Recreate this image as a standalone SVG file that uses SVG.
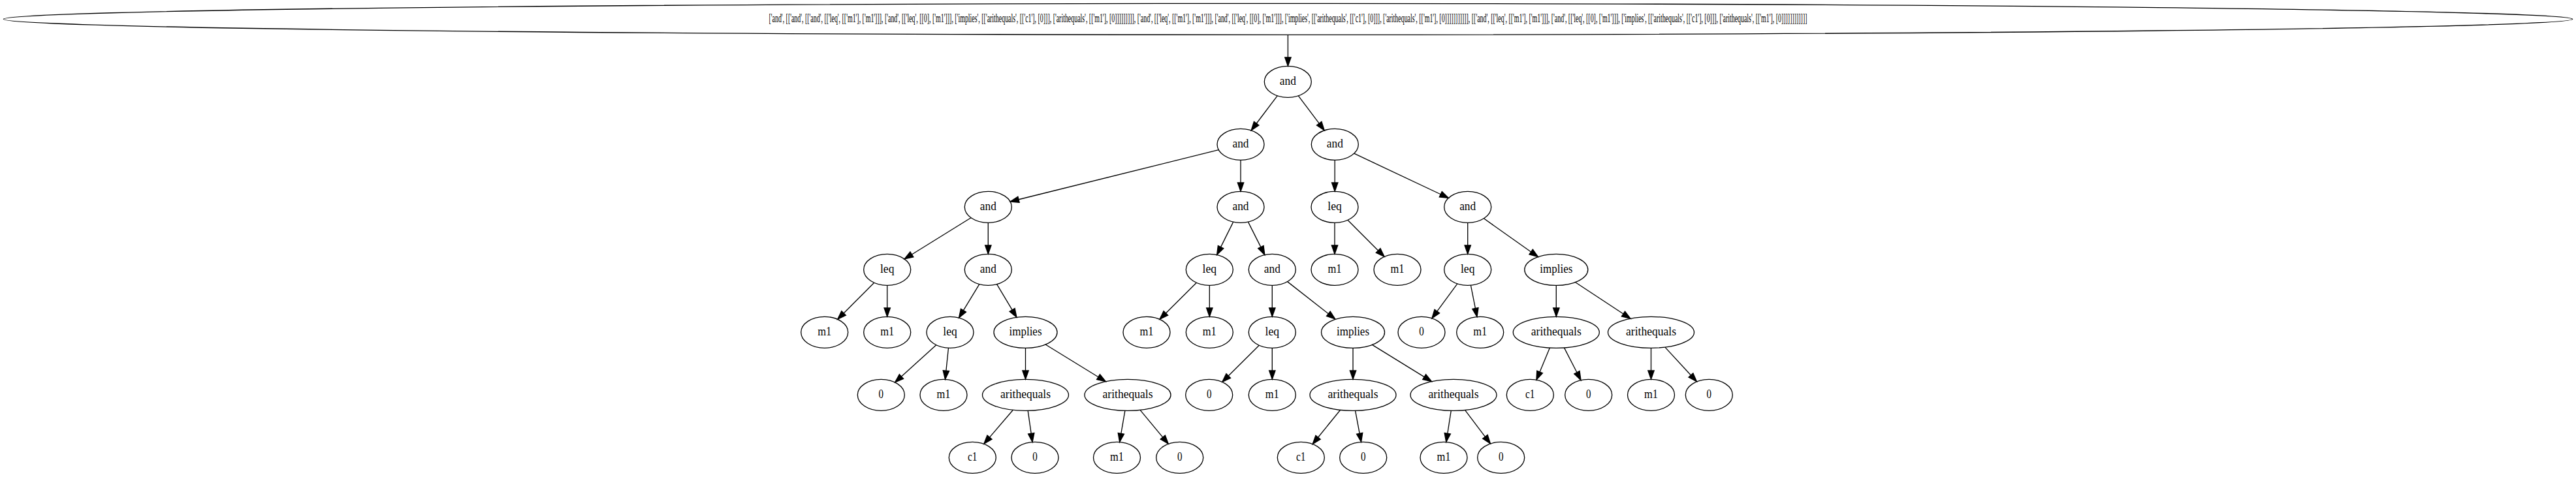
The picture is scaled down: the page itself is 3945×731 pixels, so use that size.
<svg xmlns="http://www.w3.org/2000/svg" width="3945" height="731" viewBox="0 0 3945 731">
<style>
.n ellipse{fill:none;stroke:#000;stroke-width:1.33}
.n text{font-family:"Liberation Serif","Times New Roman",serif;font-size:18.67px;fill:#000;text-anchor:middle}
#edges line{stroke:#000;stroke-width:1.33;marker-end:url(#ah)}
</style>
<defs>
<marker id="ah" markerUnits="userSpaceOnUse" markerWidth="16" markerHeight="12" refX="0" refY="4.67" orient="auto" overflow="visible">
<path d="M0,0 L13.33,4.67 L0,9.33 z" fill="#000" stroke="#000" stroke-width="1.33"/>
</marker>
</defs>
<rect width="3945" height="731" fill="#fff"/>
<g id="edges">
<line x1="1972.4" y1="53.33" x2="1972.4" y2="88"/>
<line x1="1956.15" y1="146.78" x2="1924.17" y2="189.23"/>
<line x1="1988.4" y1="146.8" x2="2020.2" y2="189.2"/>
<line x1="1866.26" y1="229.7" x2="1559.98" y2="305.75"/>
<line x1="1900" y1="245.33" x2="1900" y2="280"/>
<line x1="2044.2" y1="245.33" x2="2044.2" y2="280"/>
<line x1="2073.68" y1="235.2" x2="2206.26" y2="297.77"/>
<line x1="1486.96" y1="333.69" x2="1396.36" y2="389.94"/>
<line x1="1513.3" y1="341.33" x2="1513.3" y2="376"/>
<line x1="1888.68" y1="340.11" x2="1869.55" y2="378.61"/>
<line x1="1911.45" y1="340.08" x2="1930.86" y2="378.67"/>
<line x1="2044" y1="341.33" x2="2044" y2="376"/>
<line x1="2063.97" y1="337.3" x2="2110.6" y2="383.93"/>
<line x1="2247.7" y1="341.33" x2="2247.7" y2="376"/>
<line x1="2272.38" y1="334.8" x2="2344.63" y2="385.96"/>
<line x1="1338.73" y1="433.3" x2="1292.1" y2="479.93"/>
<line x1="1358.7" y1="437.33" x2="1358.7" y2="472"/>
<line x1="1499.79" y1="435.58" x2="1475.43" y2="475.69"/>
<line x1="1526.63" y1="435.62" x2="1550.1" y2="474.88"/>
<line x1="1832.33" y1="433.3" x2="1785.4" y2="479.93"/>
<line x1="1852.3" y1="437.33" x2="1852.3" y2="472"/>
<line x1="1948.3" y1="437.33" x2="1948.3" y2="472"/>
<line x1="1971.61" y1="431.62" x2="2034.33" y2="480.8"/>
<line x1="2231.83" y1="434.87" x2="2200.77" y2="477.06"/>
<line x1="2252.41" y1="437.12" x2="2259.4" y2="472.46"/>
<line x1="2383.3" y1="437.33" x2="2383.3" y2="472"/>
<line x1="2412.43" y1="432.52" x2="2485.98" y2="480.99"/>
<line x1="1433.7" y1="528.68" x2="1380.47" y2="577.02"/>
<line x1="1452.51" y1="533.27" x2="1448.87" y2="568.13"/>
<line x1="1570.5" y1="533.33" x2="1570.5" y2="568"/>
<line x1="1601.13" y1="528.02" x2="1682.02" y2="577.7"/>
<line x1="1928.24" y1="529.26" x2="1881.22" y2="576"/>
<line x1="1948.3" y1="533.33" x2="1948.3" y2="568"/>
<line x1="2072" y1="533.33" x2="2072" y2="568"/>
<line x1="2101.01" y1="528.07" x2="2181.2" y2="577.63"/>
<line x1="2373.41" y1="533.06" x2="2358.07" y2="569.9"/>
<line x1="2395.44" y1="532.92" x2="2414.92" y2="570.78"/>
<line x1="2528.5" y1="533.33" x2="2528.5" y2="568"/>
<line x1="2549.94" y1="532.09" x2="2589.46" y2="575.06"/>
<line x1="1551.4" y1="628.28" x2="1515.48" y2="670.19"/>
<line x1="1574.2" y1="629.29" x2="1579.21" y2="664.29"/>
<line x1="1722.88" y1="629.28" x2="1716.86" y2="664.35"/>
<line x1="1746.07" y1="628.31" x2="1780.75" y2="670.07"/>
<line x1="2052.64" y1="628.27" x2="2018.55" y2="670.22"/>
<line x1="2075.59" y1="629.29" x2="2082.14" y2="664.28"/>
<line x1="2222.26" y1="629.29" x2="2216.79" y2="664.29"/>
<line x1="2243.52" y1="628.47" x2="2274.43" y2="669.28"/>
</g>
<g id="root" class="n"><ellipse cx="1972.5" cy="29.33" rx="1967.2" ry="24"/><text x="1972.5" y="34.33" textLength="1590" lengthAdjust="spacingAndGlyphs">['and', [['and', [['and', [['leq', [['m1'], ['m1']]], ['and', [['leq', [[0], ['m1']]], ['implies', [['arithequals', [['c1'], [0]]], ['arithequals', [['m1'], [0]]]]]]]]], ['and', [['leq', [['m1'], ['m1']]], ['and', [['leq', [[0], ['m1']]], ['implies', [['arithequals', [['c1'], [0]]], ['arithequals', [['m1'], [0]]]]]]]]]]], [['and', [['leq', [['m1'], ['m1']]], ['and', [['leq', [[0], ['m1']]], ['implies', [['arithequals', [['c1'], [0]]], ['arithequals', [['m1'], [0]]]]]]]]]]]]</text></g>
<g id="n1" class="n"><ellipse cx="1972.3" cy="125.33" rx="36" ry="24"/><text x="1972.3" y="130.33" textLength="25" lengthAdjust="spacingAndGlyphs">and</text></g>
<g id="n2" class="n"><ellipse cx="1900" cy="221.33" rx="36" ry="24"/><text x="1900" y="226.33" textLength="25" lengthAdjust="spacingAndGlyphs">and</text></g>
<g id="n3" class="n"><ellipse cx="2044.3" cy="221.33" rx="36" ry="24"/><text x="2044.3" y="226.33" textLength="25" lengthAdjust="spacingAndGlyphs">and</text></g>
<g id="n4" class="n"><ellipse cx="1513.3" cy="317.33" rx="36" ry="24"/><text x="1513.3" y="322.33" textLength="25" lengthAdjust="spacingAndGlyphs">and</text></g>
<g id="n5" class="n"><ellipse cx="1900" cy="317.33" rx="36" ry="24"/><text x="1900" y="322.33" textLength="25" lengthAdjust="spacingAndGlyphs">and</text></g>
<g id="n6" class="n"><ellipse cx="2044" cy="317.33" rx="36" ry="24"/><text x="2044" y="322.33" textLength="21.5" lengthAdjust="spacingAndGlyphs">leq</text></g>
<g id="n7" class="n"><ellipse cx="2247.7" cy="317.33" rx="36" ry="24"/><text x="2247.7" y="322.33" textLength="25" lengthAdjust="spacingAndGlyphs">and</text></g>
<g id="n8" class="n"><ellipse cx="1358.7" cy="413.33" rx="36" ry="24"/><text x="1358.7" y="418.33" textLength="21.5" lengthAdjust="spacingAndGlyphs">leq</text></g>
<g id="n9" class="n"><ellipse cx="1513.3" cy="413.33" rx="36" ry="24"/><text x="1513.3" y="418.33" textLength="25" lengthAdjust="spacingAndGlyphs">and</text></g>
<g id="n10" class="n"><ellipse cx="1852.3" cy="413.33" rx="36" ry="24"/><text x="1852.3" y="418.33" textLength="21.5" lengthAdjust="spacingAndGlyphs">leq</text></g>
<g id="n11" class="n"><ellipse cx="1948.3" cy="413.33" rx="36" ry="24"/><text x="1948.3" y="418.33" textLength="25" lengthAdjust="spacingAndGlyphs">and</text></g>
<g id="n12" class="n"><ellipse cx="2044" cy="413.33" rx="36" ry="24"/><text x="2044" y="418.33" textLength="21" lengthAdjust="spacingAndGlyphs">m1</text></g>
<g id="n13" class="n"><ellipse cx="2140" cy="413.33" rx="36" ry="24"/><text x="2140" y="418.33" textLength="21" lengthAdjust="spacingAndGlyphs">m1</text></g>
<g id="n14" class="n"><ellipse cx="2247.7" cy="413.33" rx="36" ry="24"/><text x="2247.7" y="418.33" textLength="21.5" lengthAdjust="spacingAndGlyphs">leq</text></g>
<g id="n15" class="n"><ellipse cx="2383.3" cy="413.33" rx="48.5" ry="24"/><text x="2383.3" y="418.33" textLength="50" lengthAdjust="spacingAndGlyphs">implies</text></g>
<g id="n16" class="n"><ellipse cx="1262.7" cy="509.33" rx="36" ry="24"/><text x="1262.7" y="514.33" textLength="21" lengthAdjust="spacingAndGlyphs">m1</text></g>
<g id="n17" class="n"><ellipse cx="1358.7" cy="509.33" rx="36" ry="24"/><text x="1358.7" y="514.33" textLength="21" lengthAdjust="spacingAndGlyphs">m1</text></g>
<g id="n18" class="n"><ellipse cx="1455" cy="509.33" rx="36" ry="24"/><text x="1455" y="514.33" textLength="21.5" lengthAdjust="spacingAndGlyphs">leq</text></g>
<g id="n19" class="n"><ellipse cx="1570.5" cy="509.33" rx="48.5" ry="24"/><text x="1570.5" y="514.33" textLength="50" lengthAdjust="spacingAndGlyphs">implies</text></g>
<g id="n20" class="n"><ellipse cx="1756" cy="509.33" rx="36" ry="24"/><text x="1756" y="514.33" textLength="21" lengthAdjust="spacingAndGlyphs">m1</text></g>
<g id="n21" class="n"><ellipse cx="1852.3" cy="509.33" rx="36" ry="24"/><text x="1852.3" y="514.33" textLength="21" lengthAdjust="spacingAndGlyphs">m1</text></g>
<g id="n22" class="n"><ellipse cx="1948.3" cy="509.33" rx="36" ry="24"/><text x="1948.3" y="514.33" textLength="21.5" lengthAdjust="spacingAndGlyphs">leq</text></g>
<g id="n23" class="n"><ellipse cx="2072" cy="509.33" rx="48.5" ry="24"/><text x="2072" y="514.33" textLength="50" lengthAdjust="spacingAndGlyphs">implies</text></g>
<g id="n24" class="n"><ellipse cx="2177" cy="509.33" rx="36" ry="24"/><text x="2177" y="514.33" textLength="7.5" lengthAdjust="spacingAndGlyphs">0</text></g>
<g id="n25" class="n"><ellipse cx="2266.7" cy="509.33" rx="36" ry="24"/><text x="2266.7" y="514.33" textLength="21" lengthAdjust="spacingAndGlyphs">m1</text></g>
<g id="n26" class="n"><ellipse cx="2383.3" cy="509.33" rx="66" ry="24"/><text x="2383.3" y="514.33" textLength="77" lengthAdjust="spacingAndGlyphs">arithequals</text></g>
<g id="n27" class="n"><ellipse cx="2528.5" cy="509.33" rx="66" ry="24"/><text x="2528.5" y="514.33" textLength="77" lengthAdjust="spacingAndGlyphs">arithequals</text></g>
<g id="n28" class="n"><ellipse cx="1349.3" cy="605.33" rx="36" ry="24"/><text x="1349.3" y="610.33" textLength="7.5" lengthAdjust="spacingAndGlyphs">0</text></g>
<g id="n29" class="n"><ellipse cx="1445" cy="605.33" rx="36" ry="24"/><text x="1445" y="610.33" textLength="21" lengthAdjust="spacingAndGlyphs">m1</text></g>
<g id="n30" class="n"><ellipse cx="1570.5" cy="605.33" rx="66" ry="24"/><text x="1570.5" y="610.33" textLength="77" lengthAdjust="spacingAndGlyphs">arithequals</text></g>
<g id="n31" class="n"><ellipse cx="1727" cy="605.33" rx="66" ry="24"/><text x="1727" y="610.33" textLength="77" lengthAdjust="spacingAndGlyphs">arithequals</text></g>
<g id="n32" class="n"><ellipse cx="1851.7" cy="605.33" rx="36" ry="24"/><text x="1851.7" y="610.33" textLength="7.5" lengthAdjust="spacingAndGlyphs">0</text></g>
<g id="n33" class="n"><ellipse cx="1948.3" cy="605.33" rx="36" ry="24"/><text x="1948.3" y="610.33" textLength="21" lengthAdjust="spacingAndGlyphs">m1</text></g>
<g id="n34" class="n"><ellipse cx="2072" cy="605.33" rx="66" ry="24"/><text x="2072" y="610.33" textLength="77" lengthAdjust="spacingAndGlyphs">arithequals</text></g>
<g id="n35" class="n"><ellipse cx="2226" cy="605.33" rx="66" ry="24"/><text x="2226" y="610.33" textLength="77" lengthAdjust="spacingAndGlyphs">arithequals</text></g>
<g id="n36" class="n"><ellipse cx="2343.3" cy="605.33" rx="36" ry="24"/><text x="2343.3" y="610.33" textLength="14.5" lengthAdjust="spacingAndGlyphs">c1</text></g>
<g id="n37" class="n"><ellipse cx="2432.7" cy="605.33" rx="36" ry="24"/><text x="2432.7" y="610.33" textLength="7.5" lengthAdjust="spacingAndGlyphs">0</text></g>
<g id="n38" class="n"><ellipse cx="2528.5" cy="605.33" rx="36" ry="24"/><text x="2528.5" y="610.33" textLength="21" lengthAdjust="spacingAndGlyphs">m1</text></g>
<g id="n39" class="n"><ellipse cx="2617.3" cy="605.33" rx="36" ry="24"/><text x="2617.3" y="610.33" textLength="7.5" lengthAdjust="spacingAndGlyphs">0</text></g>
<g id="n40" class="n"><ellipse cx="1489.3" cy="701.33" rx="36" ry="24"/><text x="1489.3" y="706.33" textLength="14.5" lengthAdjust="spacingAndGlyphs">c1</text></g>
<g id="n41" class="n"><ellipse cx="1585" cy="701.33" rx="36" ry="24"/><text x="1585" y="706.33" textLength="7.5" lengthAdjust="spacingAndGlyphs">0</text></g>
<g id="n42" class="n"><ellipse cx="1710.5" cy="701.33" rx="36" ry="24"/><text x="1710.5" y="706.33" textLength="21" lengthAdjust="spacingAndGlyphs">m1</text></g>
<g id="n43" class="n"><ellipse cx="1806.7" cy="701.33" rx="36" ry="24"/><text x="1806.7" y="706.33" textLength="7.5" lengthAdjust="spacingAndGlyphs">0</text></g>
<g id="n44" class="n"><ellipse cx="1992.3" cy="701.33" rx="36" ry="24"/><text x="1992.3" y="706.33" textLength="14.5" lengthAdjust="spacingAndGlyphs">c1</text></g>
<g id="n45" class="n"><ellipse cx="2087.7" cy="701.33" rx="36" ry="24"/><text x="2087.7" y="706.33" textLength="7.5" lengthAdjust="spacingAndGlyphs">0</text></g>
<g id="n46" class="n"><ellipse cx="2211" cy="701.33" rx="36" ry="24"/><text x="2211" y="706.33" textLength="21" lengthAdjust="spacingAndGlyphs">m1</text></g>
<g id="n47" class="n"><ellipse cx="2298.7" cy="701.33" rx="36" ry="24"/><text x="2298.7" y="706.33" textLength="7.5" lengthAdjust="spacingAndGlyphs">0</text></g>
</svg>
